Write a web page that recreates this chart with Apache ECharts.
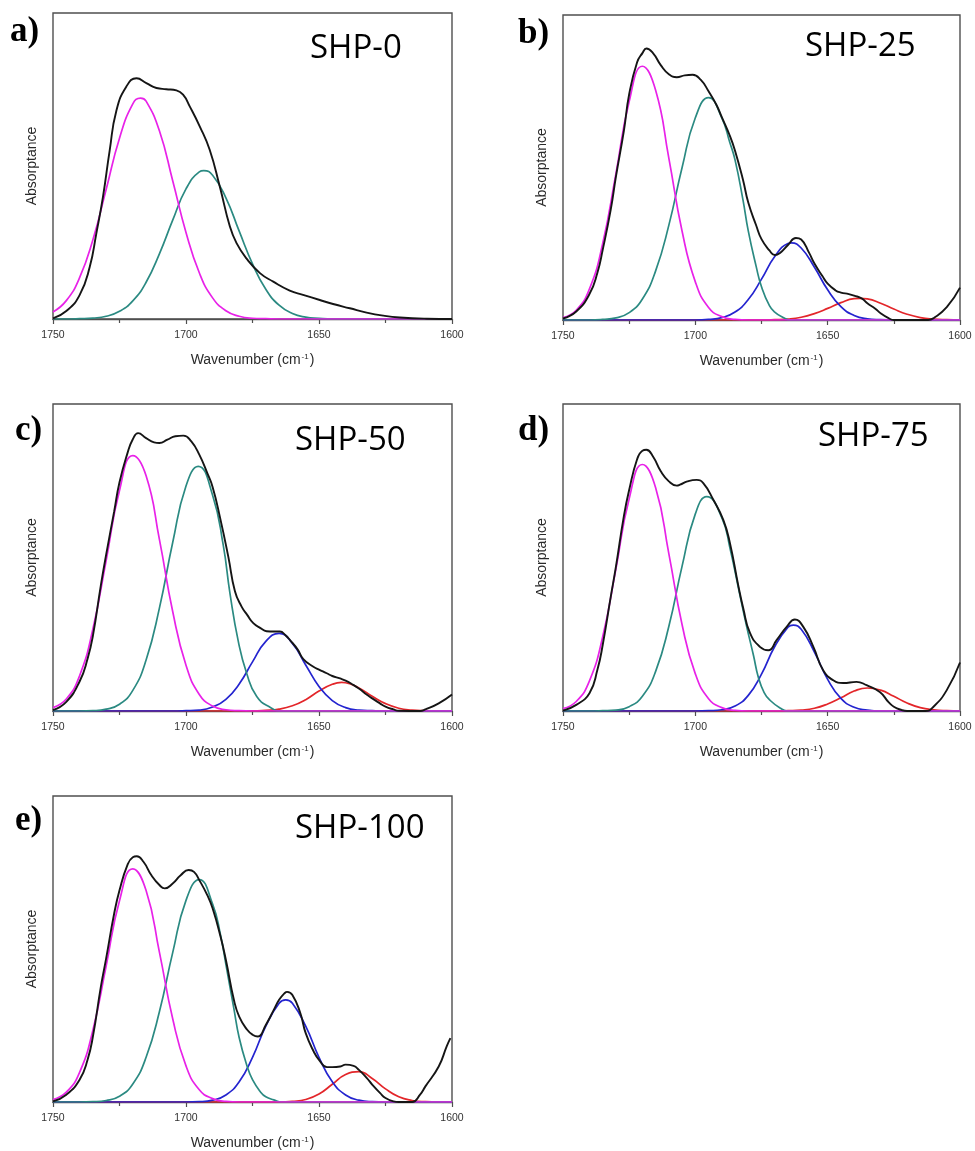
<!DOCTYPE html>
<html>
<head>
<meta charset="utf-8">
<script src="https://cdn.jsdelivr.net/npm/echarts@6/dist/echarts.min.js"></script>
<style>
html,body{margin:0;padding:0;background:#fff;}
#chart{width:975px;height:1151px;}
</style>
</head>
<body>
<div id="chart"></div>
<script>
// ---- Data (wavenumber, absorptance in % of plot height) ----
const panelLetters = ['a)', 'b)', 'c)', 'd)', 'e)'];
const panelNames = ['SHP-0', 'SHP-25', 'SHP-50', 'SHP-75', 'SHP-100'];
const xTicks = [1750, 1700, 1650, 1600];

// Panel a
const black_a = [[1750,0.2],[1745,2.6],[1740,7.8],[1736.2,17],[1733.7,28],[1731.2,40],[1728.7,55],[1726.2,68],[1722.4,76],[1718.6,78.7],[1714.9,77.1],[1711.1,75.5],[1707.4,75.1],[1703.6,74.7],[1701.1,73.3],[1698.6,69.5],[1694.8,62.9],[1691.1,55.3],[1687.3,43.3],[1683.5,30.2],[1681,24.8],[1677.3,19.8],[1672.2,15],[1667.2,12.2],[1661,9.3],[1656,7.9],[1649.7,6.2],[1644.7,4.9],[1638.4,3.5],[1632.1,2.1],[1625.8,1.1],[1619.6,0.5],[1609.5,0.1],[1600,0]];
const magenta_a = [[1750,2.3],[1745,6.0],[1740,13.5],[1735,25.9],[1730,42.4],[1725,59.1],[1720,70.3],[1717.1,72.2],[1715,71.2],[1710,61.5],[1705,45.2],[1700,28.3],[1695,15.1],[1690,6.9],[1685,2.7],[1680,0.9],[1675,0.25],[1670,0.1],[1665,0],[1600,0]];
const teal_a = [[1750,0],[1745,0],[1740,0.1],[1735,0.3],[1730,0.9],[1725,2.5],[1720,5.9],[1715,12.0],[1710,21.3],[1705,32.3],[1700,42.5],[1695,48.1],[1693.3,48.5],[1690,47.0],[1685,39.6],[1680,28.7],[1675,18.0],[1670,9.7],[1665,4.5],[1660,1.8],[1655,0.6],[1650,0.2],[1645,0],[1600,0]];

// Panel b
const black_b = [[1750,0.5],[1745,2.8],[1740,8.5],[1737,15.5],[1735,23],[1732,36],[1730,47],[1727,62],[1725,74],[1722,84.5],[1720,87.5],[1718.5,89],[1716,87.5],[1713,83.5],[1710,80.6],[1707,79.6],[1704,80.2],[1701,80.4],[1698,78.8],[1695,75],[1692,70.5],[1690,66.5],[1687,60.5],[1685,55.5],[1682,46],[1680,38.5],[1677,31],[1675,26.5],[1672,22.8],[1670,21.3],[1668,22],[1665,24.6],[1662,26.9],[1660,26.4],[1657,22],[1655,18.5],[1652,14.4],[1650,11.9],[1647,9.7],[1645,9],[1642,8.5],[1640,8],[1637,7],[1635,5.5],[1632,3.7],[1630,2.2],[1627,0.6],[1625,0],[1612,0],[1610,0.6],[1605,4.2],[1600,10.6]];
const magenta_b = [[1750,0.8],[1745,3.2],[1740,10.2],[1735,25.1],[1730,48.0],[1725,71.6],[1720,83.2],[1715,75.3],[1710,53.0],[1705,29.1],[1700,12.5],[1695,4.1],[1690,1.1],[1685,0.2],[1680,0],[1600,0]];
const teal_b = [[1750,0],[1740,0],[1735,0.2],[1730,0.7],[1725,2.4],[1720,6.9],[1715,16.1],[1710,31.1],[1705,50.0],[1700,66.3],[1695,72.9],[1690,66.3],[1687,58.3],[1685,52.5],[1682,39.4],[1680,29.2],[1677,17.5],[1675,10.9],[1672,4.7],[1670,2.6],[1667,0.9],[1664,0],[1600,0]];
const blue_b = [[1750,0],[1700,0],[1695,0.2],[1690,0.8],[1685,2.6],[1680,6.7],[1675,13.4],[1670,20.8],[1665,25.1],[1663.7,25.3],[1660,23.6],[1655,17.3],[1650,9.9],[1645,4.4],[1640,1.5],[1635,0.4],[1630,0.1],[1625,0],[1600,0]];
const red_b = [[1750,0],[1675,0],[1670,0.1],[1665,0.3],[1660,0.9],[1655,2.1],[1650,3.8],[1645,5.7],[1640,7.0],[1637.8,7.1],[1635,6.9],[1630,5.5],[1625,3.6],[1620,1.9],[1615,0.8],[1610,0.3],[1605,0.1],[1600,0]];

// Panel c
const black_c = [[1750,0.3],[1745,3],[1740,9.6],[1737,17],[1735,24.5],[1732,41],[1730,51],[1727,65],[1725,74.5],[1722,84],[1720,88.5],[1718,90.5],[1715,88.9],[1712,87.5],[1710,87.3],[1707,88.4],[1704,89.5],[1701,89.7],[1698,87.8],[1695,83.5],[1692,77.5],[1690,73],[1687.2,63],[1684.1,50.3],[1681.6,39],[1679.1,34],[1677,31.3],[1674.7,28.6],[1672,27],[1669.7,26],[1667,25.9],[1664.7,25.9],[1662.5,24.6],[1660.9,23.1],[1658,20],[1655.9,16.9],[1652.1,14.4],[1650,13.5],[1647.1,12.3],[1645,11.4],[1642.1,10.6],[1640,9.9],[1637.1,8.5],[1635,7.3],[1632.1,5.4],[1630,4.1],[1627.1,2.5],[1625,1.4],[1622,0.5],[1620,0.1],[1612,0],[1610,0.5],[1605,2.5],[1600,5.4]];
const magenta_c = [[1750,1.1],[1745,3.9],[1740,11.5],[1735,26.7],[1730,49.1],[1725,71.8],[1720,83.2],[1715,76.6],[1710,55.9],[1705,32.4],[1700,14.9],[1695,5.4],[1690,1.6],[1685,0.4],[1680,0.1],[1675,0],[1600,0]];
const teal_c = [[1750,0],[1740,0],[1735,0.1],[1730,0.6],[1725,2.2],[1720,6.7],[1715,16.6],[1710,33.5],[1705,54.9],[1700,73.3],[1695.4,79.7],[1690,70.3],[1686,54],[1683.5,38.5],[1680.3,22.5],[1677.2,12.3],[1673.4,4.7],[1668.4,1.2],[1664,0],[1600,0]];
const blue_c = [[1750,0],[1705,0],[1700,0.1],[1695,0.3],[1690,1.3],[1685,3.8],[1680,8.8],[1675,16.0],[1670,22.7],[1665,25.3],[1660,22.0],[1655,15.0],[1650,8.0],[1645,3.4],[1640,1.1],[1635,0.3],[1630,0.1],[1625,0],[1600,0]];
const red_c = [[1750,0],[1675,0],[1670,0.2],[1665,0.6],[1660,1.7],[1655,3.7],[1650,6.5],[1645,8.7],[1641.5,9.3],[1640,9.2],[1635,7.5],[1630,4.8],[1625,2.4],[1620,0.9],[1615,0.3],[1610,0.1],[1605,0],[1600,0]];

// Panel d
const black_d = [[1750,0.1],[1745,2],[1740,5.8],[1737,13.4],[1735,21.5],[1732,37],[1730,47],[1727,63.5],[1725,72],[1722,82],[1720,84.8],[1718.5,85.1],[1716,82.9],[1713,78],[1710,74.8],[1707,73.4],[1705.8,73.7],[1703,74.8],[1699.5,75.3],[1697,74.2],[1693.2,68.8],[1689.4,62.2],[1686.9,54.6],[1683.8,41],[1681.9,33.5],[1679.4,25.5],[1675.6,20.9],[1672.4,19.8],[1669.3,23.1],[1665.5,27.4],[1662.4,29.8],[1659.2,27.4],[1655.4,20.9],[1651.7,13.3],[1647.9,10],[1644.1,9.1],[1639.1,9.5],[1635.3,8.4],[1630.3,6.2],[1627,2.9],[1625,1.4],[1622,0.3],[1620,0],[1613,0],[1610,1.4],[1605,6.8],[1600,15.8]];
const magenta_d = [[1750,0.8],[1745,3.1],[1740,9.8],[1735,24.2],[1730,46.3],[1725,69.1],[1720,80.3],[1715,72.7],[1710,51.2],[1705,28.1],[1700,12.1],[1695,4.0],[1690,1.1],[1685,0.2],[1680,0],[1600,0]];
const teal_d = [[1750,0],[1740,0],[1735,0.1],[1730,0.3],[1725,1.4],[1720,4.8],[1715,12.9],[1710,27.6],[1705,47.2],[1700,64.2],[1695.7,69.8],[1690,63],[1686.9,53],[1683.1,37.5],[1680.6,27.5],[1678,18],[1676.2,11],[1674,6],[1671.8,3.5],[1668,1],[1665,0],[1600,0]];
const blue_d = [[1750,0],[1700,0],[1695,0.1],[1690,0.4],[1685,1.6],[1680,5.1],[1675,12.0],[1670,21.0],[1665,27.3],[1663,28],[1660,26.6],[1655,19.2],[1650,10.3],[1645,4.1],[1640,1.2],[1635,0.3],[1630,0],[1600,0]];
const red_d = [[1750,0],[1670,0],[1665,0.1],[1660,0.3],[1655,0.9],[1650,2.3],[1645,4.3],[1640,6.5],[1635,7.5],[1630,6.8],[1625,4.8],[1620,2.6],[1615,1.1],[1610,0.4],[1605,0.1],[1600,0]];

// Panel e
const black_e = [[1750,0.2],[1745,2.4],[1740,7.3],[1737,13.8],[1735,21.4],[1732,37.7],[1730,47],[1727,61.6],[1725,69.2],[1722,77.5],[1720,80],[1718.5,80.3],[1716,78.5],[1713,74.1],[1710,70.9],[1708,69.8],[1705,71.4],[1702,74.1],[1699,75.8],[1697,75.2],[1695,72.5],[1692,67.6],[1690,63.3],[1687,54],[1685,46.4],[1682,33.4],[1680,27.9],[1677,23.6],[1675,22],[1673,21.4],[1670,25.2],[1667,30.1],[1665,33.4],[1663,35.5],[1662,36],[1660,35],[1657,29],[1655,22.5],[1652,16.5],[1650,13.8],[1647,11.4],[1645,11.4],[1642,11.6],[1640,12.2],[1637,11.8],[1635,10.5],[1632,7.8],[1630,5.7],[1627,2.9],[1625,1.3],[1622,0.2],[1620,0],[1615,0],[1612,2.4],[1610,5.1],[1605,11.6],[1602,18.2],[1600.6,20.9]];
const magenta_e = [[1750,0.8],[1745,3.2],[1740,9.7],[1735,23.5],[1730,44.5],[1725,65.8],[1720,76.2],[1715,69.1],[1710,49.0],[1705,27.2],[1700,11.8],[1695,4.0],[1690,1.1],[1685,0.2],[1680,0],[1600,0]];
const teal_e = [[1750,0],[1740,0],[1735,0.1],[1730,0.5],[1725,1.9],[1720,5.9],[1715,14.6],[1710,29.5],[1705,48.8],[1700,65.9],[1695,72.7],[1690,64.7],[1687,54.5],[1685,45],[1682,30.5],[1680,21],[1677,11.6],[1675,7.3],[1672,3.3],[1670,1.7],[1667,0.7],[1664,0],[1600,0]];
const blue_e = [[1750,0],[1700,0],[1695,0.1],[1690,0.6],[1685,2.3],[1680,6.6],[1675,14.6],[1670,24.8],[1665,32.3],[1662.5,33.4],[1660,32.3],[1655,24.8],[1650,14.6],[1645,6.6],[1640,2.3],[1635,0.6],[1630,0.1],[1625,0],[1600,0]];
const red_e = [[1750,0],[1665,0],[1660,0.2],[1655,0.8],[1650,2.6],[1645,5.8],[1640,9.0],[1635,9.9],[1630,7.7],[1625,4.3],[1620,1.7],[1615,0.5],[1610,0.1],[1605,0],[1600,0]];

// ---- Layout ----
const panels = [
  {grid:{left:53, top:13, width:399, height:306}, letter:[10,33], name:[310,51], series:{black:black_a, magenta:magenta_a, teal:teal_a}},
  {grid:{left:563, top:15, width:397, height:305}, letter:[518,35], name:[805,49], series:{black:black_b, magenta:magenta_b, teal:teal_b, blue:blue_b, red:red_b}},
  {grid:{left:53, top:404, width:399, height:307}, letter:[15,432], name:[295,443], series:{black:black_c, magenta:magenta_c, teal:teal_c, blue:blue_c, red:red_c}},
  {grid:{left:563, top:404, width:397, height:307}, letter:[518,432], name:[818,439], series:{black:black_d, magenta:magenta_d, teal:teal_d, blue:blue_d, red:red_d}},
  {grid:{left:53, top:796, width:399, height:306}, letter:[15,822], name:[295,831], series:{black:black_e, magenta:magenta_e, teal:teal_e, blue:blue_e, red:red_e}}
];
const colors = {red:'#e3262a', blue:'#2424cf', teal:'#2b8a82', magenta:'#e822e8', black:'#151515'};
const drawOrder = ['red','blue','teal','magenta','black'];
const frame = '#4f4f4f';

const grids = [], xAxes = [], yAxes = [], series = [], graphics = [];
panels.forEach((p, i) => {
  grids.push(Object.assign({show:true, borderColor:frame, borderWidth:1.4, backgroundColor:'#fff'}, p.grid));
  xAxes.push({
    type:'value', gridIndex:i, min:1600, max:1750, interval:50, inverse:true,
    axisLine:{show:true, lineStyle:{color:frame, width:1.4}},
    axisTick:{show:true, inside:false, length:5, lineStyle:{color:frame, width:1.2}},
    minorTick:{show:true, splitNumber:2, length:4, lineStyle:{color:frame, width:1.2}},
    splitLine:{show:false},
    axisLabel:{show:true, margin:11, fontSize:10.5, color:'#333', fontFamily:'Liberation Sans, Arial, sans-serif',
      formatter:(v) => xTicks.indexOf(v) >= 0 ? String(v) : ''},
    name:'Wavenumber (cm{s|-1})', nameLocation:'middle', nameGap:34,
    nameTextStyle:{fontSize:14, color:'#2a2a2a', fontFamily:'Liberation Sans, Arial, sans-serif',
      rich:{s:{fontSize:8, verticalAlign:'top', color:'#2a2a2a', fontFamily:'Liberation Sans, Arial, sans-serif', padding:[0,1,0,1]}}}
  });
  yAxes.push({
    type:'value', gridIndex:i, min:0, max:100,
    axisLine:{show:false}, axisTick:{show:false}, axisLabel:{show:false}, splitLine:{show:false},
    name:'Absorptance', nameLocation:'middle', nameGap:14,
    nameTextStyle:{fontSize:14, color:'#2a2a2a', fontFamily:'Liberation Sans, Arial, sans-serif'}
  });
  drawOrder.forEach(k => {
    if (!p.series[k]) return;
    series.push({
      type:'line', xAxisIndex:i, yAxisIndex:i, data:p.series[k], showSymbol:false, symbol:'none',
      smooth:0.5, clip:true, animation:false,
      lineStyle:{color:colors[k], width:k === 'black' ? 1.9 : 1.7}
    });
  });
  graphics.push({type:'text', left:p.letter[0], top:p.letter[1]-19, style:{text:panelLetters[i], fill:'#000',
    font:'bold 35px "Liberation Serif", "Times New Roman", serif'}});
  graphics.push({type:'text', left:p.name[0], top:p.name[1]-19, style:{text:panelNames[i], fill:'#000',
    font:'33px "Open Sans", "Noto Sans", sans-serif'}});
});

const chart = echarts.init(document.getElementById('chart'), null, {renderer:'canvas'});
chart.setOption({
  backgroundColor:'#fff',
  animation:false,
  grid:grids, xAxis:xAxes, yAxis:yAxes, series:series, graphic:graphics
});
</script>
</body>
</html>
